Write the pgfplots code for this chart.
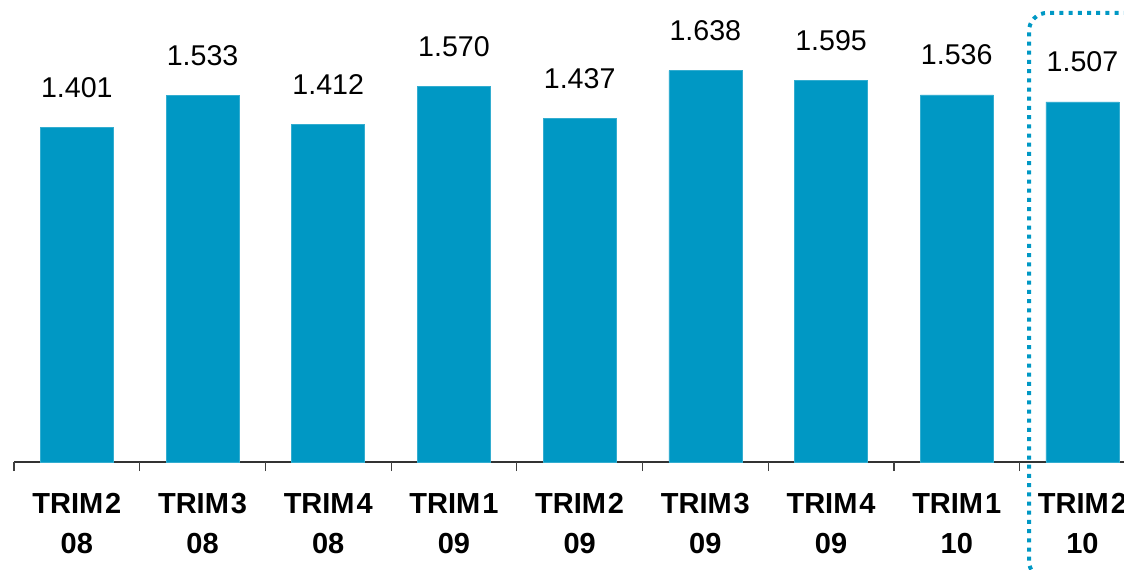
\documentclass[border=0pt]{standalone}
\usepackage{fontspec}
\setmainfont{Liberation Sans}
\usepackage{pgfplots}
\pgfplotsset{compat=1.18}
\definecolor{barblue}{HTML}{0098C4}

\begin{document}
\begin{tikzpicture}
\begin{axis}[
  x=62.85pt, y=119.5pt,
  xmin=-0.5, xmax=8.5, ymin=0, ymax=1.9,
  clip=false,
  axis x line*=bottom,
  axis y line=none,
  axis line style={black!80, line width=0.75pt},
  xtick={0,...,8},
  xticklabels={{TRIM\kern1pt2\\08},{TRIM\kern1pt3\\08},{TRIM\kern1pt4\\08},
               {TRIM\kern1pt1\\09},{TRIM\kern1pt2\\09},{TRIM\kern1pt3\\09},
               {TRIM\kern1pt4\\09},{TRIM\kern1pt1\\10},{TRIM\kern1pt2\\10}},
  major tick length=0pt,
  xticklabel style={font=\fontsize{14.5}{19.9}\selectfont\bfseries, align=center,
    anchor=north, inner sep=0pt, yshift=-15.5pt},
  extra x ticks={-0.5,0.5,1.5,2.5,3.5,4.5,5.5,6.5,7.5},
  extra x tick labels={},
  extra x tick style={major tick length=4.5pt, tick align=outside,
    tick style={black!75, line width=0.6pt}},
  ybar, bar width=36.5pt,
  nodes near coords,
  point meta=explicit symbolic,
  every node near coord/.append style={font=\fontsize{14.3}{16}\selectfont,
    black, anchor=base, yshift=15pt, inner sep=0pt},
]
\addplot[fill=barblue, draw=barblue!80!white, line width=0.3pt] table[meta=lab] {
x y lab
0 1.401 1.401
1 1.533 1.533
2 1.412 1.412
3 1.570 1.570
4 1.437 1.437
5 1.638 1.638
6 1.595 1.595
7 1.536 1.536
8 1.507 1.507
};
\draw[barblue, line width=2pt, dash pattern=on 2pt off 2.6pt, rounded corners=9pt]
  (axis cs:8.8,1.879) -- (axis cs:7.575,1.879) -- (axis cs:7.575,-0.49) -- (axis cs:8.8,-0.49);
\coordinate (bl) at ([xshift=-7pt, yshift=-53.5pt]axis cs:-0.5,0);
\end{axis}
\pgfresetboundingbox
\path[use as bounding box] (bl) rectangle ++(562pt,284.5pt);
\end{tikzpicture}
\end{document}
